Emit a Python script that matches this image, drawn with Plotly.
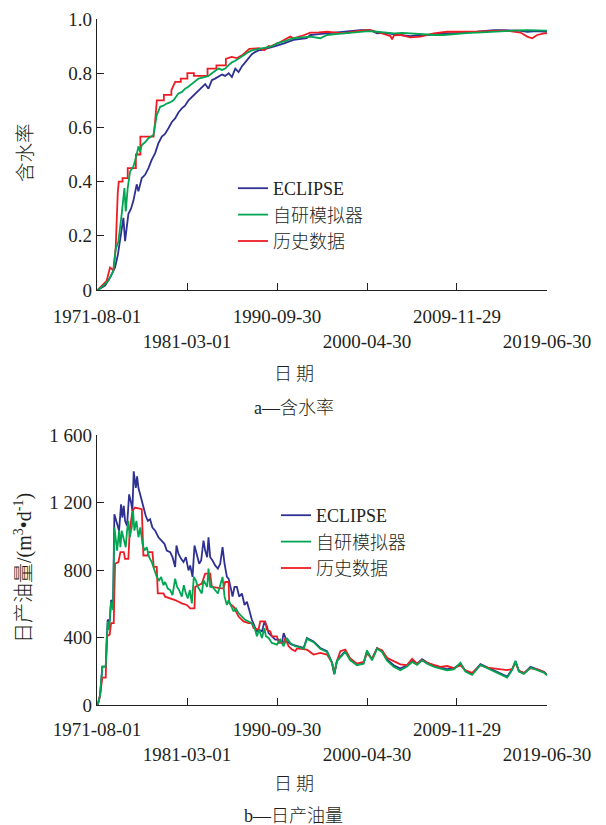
import plotly.graph_objects as go
from datetime import datetime, timedelta

# ---------------- data (decimal years) ----------------
# (a) water cut
wc_ecl_t = [1971.65, 1972.44, 1972.97, 1973.50, 1973.80, 1974.04, 1974.39, 1974.57, 1974.92, 1975.20,
            1975.46, 1975.81, 1975.99, 1976.35, 1976.70, 1977.06, 1977.40, 1977.77, 1978.10, 1978.48,
            1978.80, 1979.19, 1979.55, 1979.90, 1980.25, 1980.61, 1980.95, 1981.32, 1981.68, 1982.03,
            1982.40, 1982.74, 1983.10, 1983.45, 1983.81, 1984.15, 1984.52, 1984.90, 1985.23, 1985.60,
            1985.94, 1986.30, 1986.65, 1987.00, 1987.36, 1987.70, 1988.07, 1988.40, 1988.78, 1989.15,
            1989.49, 1990.00, 1990.56, 1991.50, 1992.50, 1993.90, 1994.30, 1995.20, 1996.07, 1997.00,
            1997.84, 1998.70, 1999.62, 2000.69, 2001.40, 2002.10, 2002.80, 2003.90, 2004.95, 2005.90,
            2006.80, 2007.60, 2008.50, 2009.40, 2010.30, 2011.20, 2012.06, 2012.90, 2013.84, 2014.70,
            2015.60, 2016.50, 2017.40, 2018.40, 2019.49]
wc_ecl_v = [0.000, 0.016, 0.046, 0.083, 0.130, 0.180, 0.266, 0.180, 0.280, 0.300,
            0.330, 0.390, 0.364, 0.413, 0.425, 0.450, 0.480, 0.505, 0.540, 0.566,
            0.575, 0.597, 0.620, 0.633, 0.655, 0.670, 0.680, 0.700, 0.712, 0.725,
            0.735, 0.750, 0.760, 0.743, 0.774, 0.780, 0.786, 0.795, 0.790, 0.800,
            0.786, 0.817, 0.804, 0.825, 0.840, 0.855, 0.870, 0.878, 0.884, 0.886,
            0.890, 0.896, 0.900, 0.910, 0.923, 0.929, 0.941, 0.944, 0.947, 0.950,
            0.953, 0.956, 0.959, 0.959, 0.947, 0.949, 0.945, 0.941, 0.937, 0.941,
            0.941, 0.945, 0.947, 0.947, 0.950, 0.951, 0.953, 0.956, 0.959, 0.959,
            0.959, 0.957, 0.953, 0.955, 0.953]

wc_sim_t = [1971.65, 1972.26, 1972.79, 1973.32, 1973.57, 1973.86, 1974.21, 1974.50, 1974.64, 1974.85,
            1975.10, 1975.46, 1975.81, 1975.99, 1976.17, 1976.35, 1976.70, 1977.06, 1977.59, 1977.94,
            1978.30, 1978.65, 1979.01, 1979.35, 1979.72, 1980.25, 1980.60, 1980.97, 1981.30, 1981.68,
            1982.05, 1982.39, 1983.10, 1983.45, 1983.81, 1984.15, 1984.52, 1984.90, 1985.23, 1985.60,
            1985.94, 1986.30, 1986.65, 1987.00, 1987.36, 1987.70, 1988.07, 1988.78, 1989.30, 1989.85,
            1990.56, 1990.74, 1991.60, 1992.50, 1993.40, 1994.30, 1995.36, 1996.07, 1997.00, 1997.84,
            1998.70, 1999.62, 2000.50, 2001.40, 2002.30, 2003.20, 2004.10, 2004.95, 2005.80, 2006.70,
            2007.60, 2008.50, 2009.40, 2010.30, 2011.20, 2012.06, 2012.90, 2013.84, 2014.70, 2015.60,
            2016.50, 2017.40, 2018.40, 2019.49]
wc_sim_v = [0.000, 0.016, 0.034, 0.070, 0.150, 0.180, 0.280, 0.376, 0.290, 0.376,
            0.437, 0.456, 0.500, 0.530, 0.510, 0.535, 0.545, 0.560, 0.572, 0.645,
            0.676, 0.680, 0.688, 0.692, 0.700, 0.725, 0.730, 0.743, 0.750, 0.760,
            0.772, 0.780, 0.786, 0.790, 0.800, 0.808, 0.817, 0.812, 0.817, 0.830,
            0.840, 0.846, 0.853, 0.860, 0.870, 0.878, 0.884, 0.890, 0.893, 0.896,
            0.905, 0.910, 0.918, 0.929, 0.932, 0.935, 0.929, 0.941, 0.944, 0.947,
            0.950, 0.953, 0.955, 0.953, 0.950, 0.947, 0.949, 0.947, 0.944, 0.941,
            0.941, 0.941, 0.944, 0.947, 0.949, 0.950, 0.952, 0.953, 0.955, 0.957,
            0.958, 0.959, 0.959, 0.957]

wc_hist_t = [1971.65, 1972.08, 1972.61, 1972.97, 1973.32, 1973.57, 1973.65, 1973.79, 1973.90, 1974.30,
             1974.30, 1974.85, 1974.85, 1975.72, 1975.72, 1976.20, 1976.20, 1977.60, 1977.75, 1977.95,
             1978.70, 1978.70, 1979.50, 1979.50, 1979.90, 1980.50, 1980.50, 1981.20, 1981.20, 1981.90,
             1981.90, 1983.35, 1983.35, 1984.30, 1984.30, 1985.30, 1985.30, 1985.90, 1986.50, 1987.10,
             1987.80, 1988.80, 1989.40, 1989.85, 1990.03, 1991.10, 1992.16, 1992.50, 1993.58, 1994.29,
             1995.20, 1996.07, 1997.00, 1997.84, 1998.70, 1999.62, 2000.69, 2001.40, 2002.10, 2002.82,
             2003.00, 2003.20, 2003.89, 2004.95, 2006.02, 2006.80, 2007.44, 2008.86, 2010.28, 2011.20,
             2012.06, 2013.84, 2015.26, 2016.68, 2017.39, 2017.92, 2018.45, 2019.17, 2019.49]
wc_hist_v = [0.000, 0.016, 0.034, 0.083, 0.073, 0.156, 0.250, 0.360, 0.400, 0.400,
             0.413, 0.413, 0.450, 0.450, 0.500, 0.500, 0.566, 0.566, 0.615, 0.700,
             0.700, 0.720, 0.720, 0.737, 0.768, 0.768, 0.780, 0.780, 0.800, 0.800,
             0.790, 0.790, 0.817, 0.817, 0.829, 0.829, 0.853, 0.860, 0.856, 0.868,
             0.890, 0.892, 0.885, 0.900, 0.898, 0.915, 0.935, 0.929, 0.940, 0.950,
             0.951, 0.953, 0.950, 0.947, 0.952, 0.957, 0.959, 0.953, 0.945, 0.937,
             0.925, 0.940, 0.941, 0.932, 0.935, 0.941, 0.947, 0.953, 0.953, 0.953,
             0.953, 0.956, 0.957, 0.950, 0.935, 0.929, 0.941, 0.947, 0.947]

# (b) daily oil production, m3/d
oil_ecl_t = [1971.65, 1971.90, 1972.15, 1972.51, 1972.72, 1972.93, 1973.08, 1973.29, 1973.43, 1973.68,
             1973.93, 1974.14, 1974.28, 1974.43, 1974.57, 1974.78, 1975.00, 1975.21, 1975.35, 1975.49,
             1975.71, 1975.85, 1975.99, 1976.27, 1976.52, 1976.77, 1976.99, 1977.23, 1977.48, 1977.77,
             1978.12, 1978.48, 1978.76, 1979.01, 1979.37, 1979.62, 1979.90, 1980.04, 1980.25, 1980.54,
             1980.79, 1981.04, 1981.32, 1981.50, 1981.75, 1981.96, 1982.21, 1982.46, 1982.67, 1982.92,
             1983.10, 1983.31, 1983.45, 1983.63, 1983.88, 1984.16, 1984.45, 1984.70, 1984.95, 1985.16,
             1985.41, 1985.59, 1985.87, 1986.01, 1986.22, 1986.47, 1986.72, 1987.01, 1987.29, 1987.54,
             1987.79, 1988.07, 1988.36, 1988.61, 1988.85, 1989.14, 1989.42, 1989.67, 1989.85, 1990.20,
             1990.56, 1990.92, 1991.27, 1991.45, 1991.80, 1992.33, 1992.87, 1993.58, 1993.93, 1994.64,
             1995.35, 1996.07, 1996.60, 1996.85, 1997.13, 1997.49, 1998.02, 1998.55, 1999.26, 1999.97,
             2000.33, 2000.86, 2001.40, 2001.93, 2002.46, 2003.17, 2003.88, 2004.59, 2005.13, 2005.66,
             2006.19, 2006.73, 2007.44, 2008.15, 2008.86, 2009.57, 2010.28, 2010.81, 2011.52, 2012.41,
             2013.12, 2013.83, 2014.54, 2015.25, 2015.79, 2016.14, 2016.50, 2017.03, 2017.74, 2018.45,
             2019.16, 2019.49]
oil_ecl_v = [0, 55, 227, 227, 505, 495, 622, 602, 1130, 1072,
             1033, 1189, 1111, 1180, 1091, 1062, 1248, 1199, 1150, 1385,
             1287, 1355, 1287, 1228, 1170, 1121, 1091, 1101, 1052, 1033,
             994, 974, 955, 915, 906, 876, 818, 945, 896, 866,
             847, 876, 798, 827, 759, 945, 896, 837, 856, 974,
             915, 876, 994, 876, 856, 827, 808, 837, 935, 837,
             759, 749, 681, 642, 700, 700, 642, 661, 593, 612,
             563, 505, 466, 436, 446, 436, 495, 466, 426, 407,
             387, 387, 368, 426, 377, 358, 348, 338, 397, 377,
             338, 319, 252, 182, 260, 289, 319, 270, 241, 250,
             319, 270, 338, 319, 270, 236, 216, 236, 262, 245,
             272, 252, 233, 223, 213, 218, 243, 203, 184, 243,
             223, 205, 186, 168, 213, 258, 203, 188, 226, 213,
             197, 180]

oil_sim_t = [1971.65, 1971.90, 1972.15, 1972.51, 1972.72, 1972.86, 1973.08, 1973.29, 1973.43, 1973.57,
             1973.72, 1973.93, 1974.07, 1974.21, 1974.43, 1974.64, 1974.78, 1974.92, 1975.07, 1975.28,
             1975.42, 1975.56, 1975.78, 1975.99, 1976.20, 1976.42, 1976.63, 1976.88, 1977.13, 1977.41,
             1977.70, 1977.94, 1978.19, 1978.41, 1978.66, 1978.83, 1979.12, 1979.37, 1979.62, 1979.90,
             1980.11, 1980.33, 1980.61, 1980.82, 1981.04, 1981.25, 1981.46, 1981.68, 1981.89, 1982.10,
             1982.32, 1982.53, 1982.74, 1982.92, 1983.10, 1983.31, 1983.45, 1983.63, 1983.88, 1984.16,
             1984.45, 1984.70, 1984.95, 1985.16, 1985.41, 1985.59, 1985.87, 1986.12, 1986.37, 1986.65,
             1987.01, 1987.36, 1987.72, 1988.07, 1988.36, 1988.61, 1988.85, 1989.14, 1989.42, 1989.56,
             1989.85, 1990.20, 1990.74, 1991.09, 1991.45, 1991.80, 1992.16, 1992.69, 1992.87, 1993.58,
             1993.93, 1994.64, 1995.35, 1996.07, 1996.60, 1996.85, 1997.13, 1997.49, 1998.02, 1998.55,
             1999.26, 1999.97, 2000.33, 2000.86, 2001.40, 2001.93, 2002.46, 2003.17, 2003.88, 2004.59,
             2005.13, 2005.66, 2006.19, 2006.73, 2007.44, 2008.15, 2008.86, 2009.57, 2010.28, 2010.81,
             2011.52, 2012.41, 2013.12, 2013.83, 2014.54, 2015.25, 2015.79, 2016.14, 2016.50, 2017.03,
             2017.74, 2018.45, 2019.16, 2019.49]
oil_sim_v = [0, 55, 227, 227, 495, 446, 612, 563, 1052, 974,
             915, 1033, 935, 1033, 974, 935, 1033, 1091, 994, 1052,
             1150, 1033, 1091, 994, 1052, 955, 915, 935, 876, 847,
             798, 759, 739, 759, 710, 729, 690, 681, 651, 749,
             700, 681, 642, 710, 661, 632, 681, 602, 759, 739,
             700, 681, 661, 739, 720, 700, 808, 700, 700, 681,
             661, 710, 759, 642, 593, 622, 583, 554, 573, 544,
             524, 505, 495, 485, 456, 407, 446, 397, 456, 407,
             397, 368, 358, 387, 348, 397, 368, 348, 348, 333,
             392, 372, 333, 314, 250, 185, 262, 284, 314, 265,
             236, 245, 324, 265, 333, 314, 262, 226, 206, 228,
             255, 238, 265, 245, 228, 216, 206, 211, 250, 198,
             178, 238, 218, 198, 180, 162, 208, 262, 198, 184,
             221, 208, 192, 176]

oil_hist_t = [1971.65, 1971.90, 1972.15, 1972.51, 1972.62, 1972.93, 1973.08, 1973.36, 1973.50, 1973.86,
              1974.07, 1974.43, 1974.57, 1974.92, 1975.07, 1975.35, 1975.63, 1976.35, 1976.52, 1976.99,
              1977.06, 1977.48, 1977.62, 1977.94, 1978.05, 1978.66, 1978.83, 1979.90, 1980.61, 1981.14,
              1981.50, 1981.96, 1982.03, 1982.74, 1983.10, 1983.63, 1983.81, 1985.05, 1985.23, 1985.59,
              1985.66, 1986.12, 1986.65, 1987.18, 1987.72, 1988.07, 1988.25, 1988.78, 1988.96, 1989.49,
              1989.67, 1990.03, 1990.20, 1990.74, 1990.92, 1991.45, 1991.63, 1991.98, 1992.34, 1992.69,
              1992.87, 1993.58, 1993.93, 1994.64, 1995.35, 1996.07, 1996.60, 1996.85, 1997.13, 1997.49,
              1998.02, 1998.55, 1999.26, 1999.97, 2000.33, 2000.86, 2001.40, 2001.93, 2002.46, 2003.17,
              2003.88, 2004.59, 2005.13, 2005.66, 2006.19, 2006.73, 2007.44, 2008.15, 2008.86, 2009.57,
              2010.28, 2010.81, 2011.52, 2012.41, 2013.12, 2013.83, 2014.54, 2015.25, 2015.79, 2016.14,
              2016.50, 2017.03, 2017.74, 2018.45, 2019.16, 2019.49]
oil_hist_v = [0, 55, 162, 162, 407, 417, 485, 485, 837, 847,
              906, 906, 866, 866, 1033, 1150, 1170, 1160, 886, 886,
              906, 906, 818, 818, 661, 661, 642, 622, 602, 593,
              573, 573, 700, 720, 778, 778, 700, 690, 729, 729,
              602, 583, 524, 495, 485, 485, 456, 446, 495, 495,
              446, 436, 407, 407, 368, 368, 397, 348, 329, 319,
              335, 330, 328, 299, 309, 299, 252, 190, 262, 319,
              328, 275, 245, 255, 305, 275, 335, 325, 280, 260,
              241, 236, 273, 245, 265, 250, 236, 226, 231, 218,
              236, 205, 190, 236, 221, 215, 211, 207, 213, 250,
              203, 190, 218, 211, 195, 178]

tick_dates = ["1971-08-01", "1981-03-01", "1990-09-30", "2000-04-30", "2009-11-29", "2019-06-30"]
wc_ticks = [0, 0.2, 0.4, 0.6, 0.8, 1.0]
wc_tick_text = ["0", "0.2", "0.4", "0.6", "0.8", "1.0"]
oil_ticks = [0, 400, 800, 1200, 1600]
oil_tick_text = ["0", "400", "800", "1 200", "1 600"]
names = ["ECLIPSE", "自研模拟器", "历史数据"]


def to_dates(years):
    out = []
    for y in years:
        base = datetime(int(y), 1, 1)
        out.append(base + timedelta(days=(y - int(y)) * 365.25))
    return out


# ---------------- styling ----------------
W, H = 606, 825
TXT = "#231F20"
SERIF = "Liberation Serif, Times New Roman, serif"
CJK = "Noto Sans CJK SC, sans-serif"
MIX = "Liberation Serif, Noto Sans CJK SC, serif"
BLUE, GREEN, RED = "#2E3192", "#00A651", "#ED1C24"
LW = 1.8

fig = go.Figure()

def add(xs, ys, name, color, xa, ya, leg, rank):
    fig.add_trace(go.Scatter(x=to_dates(xs), y=ys, mode="lines", name=name,
                             line=dict(color=color, width=LW), xaxis=xa, yaxis=ya,
                             legend=leg, legendrank=rank))

add(wc_ecl_t, wc_ecl_v, names[0], BLUE, "x", "y", "legend", 1)
add(wc_hist_t, wc_hist_v, names[2], RED, "x", "y", "legend", 3)
add(wc_sim_t, wc_sim_v, names[1], GREEN, "x", "y", "legend", 2)
add(oil_ecl_t, oil_ecl_v, names[0], BLUE, "x2", "y2", "legend2", 1)
add(oil_hist_t, oil_hist_v, names[2], RED, "x2", "y2", "legend2", 3)
add(oil_sim_t, oil_sim_v, names[1], GREEN, "x2", "y2", "legend2", 2)

x_left, x_right = 97, 547
top_t, top_b = 19, 290
bot_t, bot_b = 435, 705

def px_x(p):
    return p / W

def px_y(p):
    return 1 - p / H

tick_text_x = [d if i % 2 == 0 else "<br>" + d for i, d in enumerate(tick_dates)]

xcommon = dict(type="date", range=[tick_dates[0], "2019-06-30 06:00"], tickmode="array",
               tickvals=tick_dates, ticktext=tick_text_x, ticks="inside", ticklen=7,
               tickwidth=1.2, tickcolor=TXT, showline=True, linecolor=TXT, linewidth=1.3,
               showgrid=False, zeroline=False, domain=[px_x(x_left), px_x(x_right)],
               tickfont=dict(family=SERIF, size=19, color=TXT), tickangle=0,
               automargin=False, ticklabeloverflow="allow")
ycommon = dict(ticks="inside", ticklen=7, tickwidth=1.2, tickcolor=TXT, showline=True,
               linecolor=TXT, linewidth=1.3, showgrid=False, zeroline=False,
               tickfont=dict(family=SERIF, size=19, color=TXT), tickmode="array",
               automargin=False)

fig.update_layout(
    width=W, height=H, margin=dict(l=0, r=0, t=0, b=0, autoexpand=False),
    paper_bgcolor="white", plot_bgcolor="white",
    xaxis=dict(**xcommon, anchor="y", ticklabelstandoff=9),
    yaxis=dict(**ycommon, range=[0, 1.0], tickvals=wc_ticks, ticktext=wc_tick_text,
               domain=[px_y(top_b), px_y(top_t)], anchor="x"),
    xaxis2=dict(**xcommon, anchor="y2", ticklabelstandoff=7),
    yaxis2=dict(**ycommon, range=[0, 1600], tickvals=oil_ticks, ticktext=oil_tick_text,
                domain=[px_y(bot_b), px_y(bot_t)], anchor="x2"),
    legend=dict(x=px_x(233), y=px_y(170), xanchor="left", yanchor="top",
                font=dict(family=MIX, size=18, color=TXT, weight=300), bgcolor="rgba(0,0,0,0)",
                tracegroupgap=0, itemwidth=30),
    legend2=dict(x=px_x(276), y=px_y(497), xanchor="left", yanchor="top",
                 font=dict(family=MIX, size=18, color=TXT, weight=300), bgcolor="rgba(0,0,0,0)",
                 tracegroupgap=0, itemwidth=30),
    showlegend=True,
)

ann = [
    ("含水率", 24, 153, 90, CJK, 19.5),
    ("日产油量/(m<sup>3</sup>•d<sup>-1</sup>)", 23, 568, 90, MIX, 20),
    ("日 期", 294, 372, 0, CJK, 18),
    ("a—含水率", 294, 408, 0, MIX, 18),
    ("日 期", 294, 782, 0, CJK, 18),
    ("b—日产油量", 293, 816, 0, MIX, 18),
]
for text, x, y, rot, fam, size in ann:
    fig.add_annotation(text=text, x=px_x(x), y=px_y(y), xref="paper", yref="paper",
                       xanchor="center", yanchor="middle", showarrow=False,
                       textangle=-rot, font=dict(family=fam, size=size, color=TXT, weight=300))

fig.write_html("out.html")
